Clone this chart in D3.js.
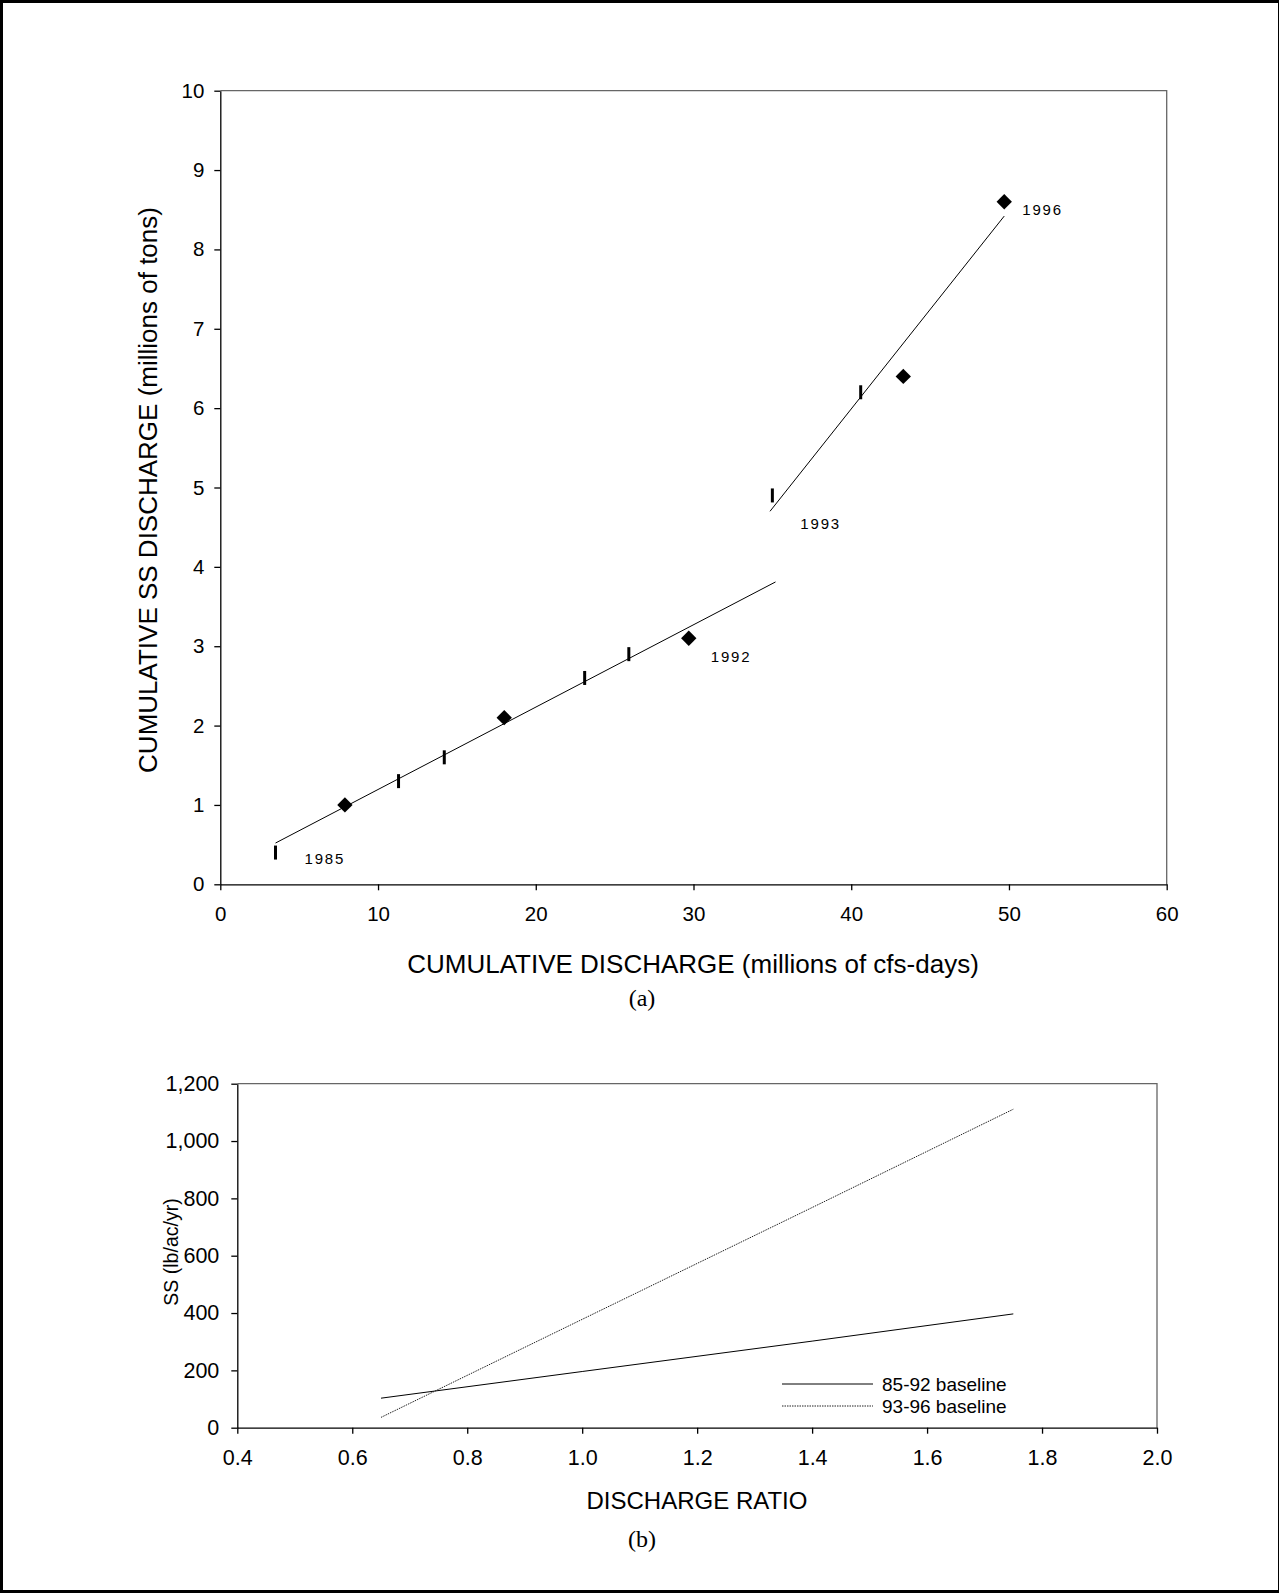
<!DOCTYPE html>
<html>
<head>
<meta charset="utf-8">
<script src="https://cdn.jsdelivr.net/npm/d3@7"></script>
<style>
  body { margin: 0; background: #fff; }
  svg { display: block; font-family: "Liberation Sans", Arial, sans-serif; }
</style>
</head>
<body>
<script>
// (a) cumulative values per year
const years = [1985, 1986, 1987, 1988, 1989, 1990, 1991, 1992, 1993, 1994, 1995, 1996];
const cumDischarge = [3.5, 7.9, 11.3, 14.2, 18.0, 23.1, 25.9, 29.7, 35.0, 40.6, 43.3, 49.7];
const cumSS = [0.4, 1.0, 1.3, 1.6, 2.1, 2.6, 2.9, 3.1, 4.9, 6.2, 6.4, 8.6];
const markerType = ["bar", "diamond", "bar", "bar", "diamond", "bar", "bar", "diamond", "bar", "bar", "diamond", "diamond"];
const labelledYears = [1985, 1992, 1993, 1996];

// fitted lines, end points
const fit8592 = [[3.5, 0.52], [35.2, 3.81]];
const fit9396 = [[34.85, 4.70], [49.7, 8.42]];

const xTicksA = [0, 10, 20, 30, 40, 50, 60];
const yTicksA = [0, 1, 2, 3, 4, 5, 6, 7, 8, 9, 10];

// (b) SS vs discharge ratio
const ratio = [0.65, 1.0, 1.4, 1.75];
const ss8592 = [103, 196, 302, 397];
const ss9396 = [36, 378, 768, 1111];
const seriesNames = ["85-92 baseline", "93-96 baseline"];

const xTicksB = [0.4, 0.6, 0.8, 1.0, 1.2, 1.4, 1.6, 1.8, 2.0];
const yTicksB = [0, 200, 400, 600, 800, 1000, 1200];

const W = 1279, H = 1593;

const svg = d3.select("body").append("svg")
  .attr("width", W)
  .attr("height", H);

svg.append("rect").attr("width", W).attr("height", H).attr("fill", "#fff");

// page border
svg.append("path")
  .attr("d", `M1.5,${H} V1.5 H${W} M0,${H - 1.5} H${W}`)
  .attr("fill", "none")
  .attr("stroke", "#000")
  .attr("stroke-width", 3);
svg.append("line")
  .attr("x1", W - 0.5).attr("x2", W - 0.5)
  .attr("y1", 0).attr("y2", H)
  .attr("stroke", "#000")
  .attr("stroke-width", 1);

function frame(g, x, y) {
  const [x0, x1] = x.range();
  const [y0, y1] = y.range();
  g.append("path")
    .attr("d", `M${x0},${y1} H${x1} V${y0}`)
    .attr("fill", "none")
    .attr("stroke", "#666")
    .attr("stroke-width", 1.3);
}

function styleAxis(sel, size) {
  sel.selectAll("text")
    .attr("font-size", size)
    .attr("fill", "#000");
  sel.selectAll("line, path").attr("stroke", "#000").attr("stroke-width", 1.3);
}

// ---------- chart (a) ----------
const xA = d3.scaleLinear().domain([0, 60]).range([220.3, 1166.7]);
const yA = d3.scaleLinear().domain([0, 10]).range([884.3, 90.7]);

const gA = svg.append("g");
frame(gA, xA, yA);

gA.append("g")
  .attr("transform", `translate(0,${yA(0)})`)
  .call(d3.axisBottom(xA).tickValues(xTicksA).tickSize(6).tickSizeOuter(0).tickPadding(16))
  .call(styleAxis, 20.5);

gA.append("g")
  .attr("transform", `translate(${xA(0)},0)`)
  .call(d3.axisLeft(yA).tickValues(yTicksA).tickSize(6).tickSizeOuter(0).tickPadding(10))
  .call(styleAxis, 20.5);

const line = d3.line();

gA.selectAll(".fit")
  .data([fit8592, fit9396])
  .enter()
  .append("path")
  .attr("class", "fit")
  .attr("d", (d) => line(d.map((p) => [xA(p[0]), yA(p[1])])))
  .attr("fill", "none")
  .attr("stroke", "#000")
  .attr("stroke-width", 1);

const pts = years.map((yr, i) => ({ yr, q: cumDischarge[i], ss: cumSS[i], kind: markerType[i] }));

gA.selectAll(".bar-mark")
  .data(pts.filter((d) => d.kind === "bar"))
  .enter()
  .append("line")
  .attr("class", "bar-mark")
  .attr("x1", (d) => xA(d.q))
  .attr("x2", (d) => xA(d.q))
  .attr("y1", (d) => yA(d.ss) - 7)
  .attr("y2", (d) => yA(d.ss) + 7)
  .attr("stroke", "#000")
  .attr("stroke-width", 3);

gA.selectAll(".diamond")
  .data(pts.filter((d) => d.kind === "diamond"))
  .enter()
  .append("path")
  .attr("class", "diamond")
  .attr("d", d3.symbol(d3.symbolSquare, 118))
  .attr("transform", (d) => `translate(${xA(d.q)},${yA(d.ss)}) rotate(45)`)
  .attr("fill", "#000");

// label offsets from their point
const labelOffset = { 1985: [29, 11], 1992: [22, 24], 1993: [28, 34], 1996: [18, 13] };

gA.selectAll(".yr")
  .data(pts.filter((d) => labelledYears.includes(d.yr)))
  .enter()
  .append("text")
  .attr("class", "yr")
  .attr("x", (d) => xA(d.q) + labelOffset[d.yr][0])
  .attr("y", (d) => yA(d.ss) + labelOffset[d.yr][1])
  .attr("font-size", 15)
  .style("letter-spacing", "1.8px")
  .text((d) => d.yr);

gA.append("text")
  .attr("x", 693)
  .attr("y", 973)
  .attr("text-anchor", "middle")
  .attr("font-size", 26)
  .text("CUMULATIVE DISCHARGE (millions of cfs-days)");

gA.append("text")
  .attr("transform", "translate(157,490) rotate(-90)")
  .attr("text-anchor", "middle")
  .attr("font-size", 26)
  .text("CUMULATIVE SS DISCHARGE (millions of tons)");

gA.append("text")
  .attr("x", 642)
  .attr("y", 1006)
  .attr("text-anchor", "middle")
  .attr("font-family", "'Liberation Serif', 'Times New Roman', serif")
  .attr("font-size", 24)
  .text("(a)");

// ---------- chart (b) ----------
const xB = d3.scaleLinear().domain([0.4, 2.0]).range([237.3, 1157]);
const yB = d3.scaleLinear().domain([0, 1200]).range([1427.7, 1083.7]);

const gB = svg.append("g");
frame(gB, xB, yB);

gB.append("g")
  .attr("transform", `translate(0,${yB(0)})`)
  .call(d3.axisBottom(xB).tickValues(xTicksB).tickFormat(d3.format(".1f")).tickSize(6).tickSizeOuter(0).tickPadding(16))
  .call(styleAxis, 21.5);

gB.append("g")
  .attr("transform", `translate(${xB(0.4)},0)`)
  .call(d3.axisLeft(yB).tickValues(yTicksB).tickFormat(d3.format(",")).tickSize(6).tickSizeOuter(0).tickPadding(12))
  .call(styleAxis, 21.5);

const seriesB = [ss8592, ss9396].map((vals, i) => ({
  name: seriesNames[i],
  dash: i === 0 ? null : "1.5,1",
  pts: ratio.map((r, j) => [r, vals[j]]),
}));

const lineB = d3.line().x((d) => xB(d[0])).y((d) => yB(d[1]));

gB.selectAll(".series")
  .data(seriesB)
  .enter()
  .append("path")
  .attr("class", "series")
  .attr("d", (d) => lineB(d.pts))
  .attr("fill", "none")
  .attr("stroke", (d, i) => (i === 0 ? "#000" : "#222"))
  .attr("stroke-width", 1)
  .attr("stroke-dasharray", (d) => d.dash);

// legend
const legend = gB.append("g").attr("transform", "translate(782,1384)");
seriesB.forEach((s, i) => {
  const row = legend.append("g").attr("transform", `translate(0,${i * 22})`);
  row.append("line")
    .attr("x1", 0).attr("x2", 91)
    .attr("stroke", i === 0 ? "#000" : "#222")
    .attr("stroke-width", 1)
    .attr("stroke-dasharray", s.dash);
  row.append("text")
    .attr("x", 100)
    .attr("y", 6.5)
    .attr("font-size", 19)
    .text(s.name);
});

gB.append("text")
  .attr("x", 697)
  .attr("y", 1509)
  .attr("text-anchor", "middle")
  .attr("font-size", 24)
  .text("DISCHARGE RATIO");

gB.append("text")
  .attr("transform", "translate(178,1252) rotate(-90)")
  .attr("text-anchor", "middle")
  .attr("font-size", 19.5)
  .text("SS (lb/ac/yr)");

gB.append("text")
  .attr("x", 642)
  .attr("y", 1547)
  .attr("text-anchor", "middle")
  .attr("font-family", "'Liberation Serif', 'Times New Roman', serif")
  .attr("font-size", 24)
  .text("(b)");
</script>
</body>
</html>
